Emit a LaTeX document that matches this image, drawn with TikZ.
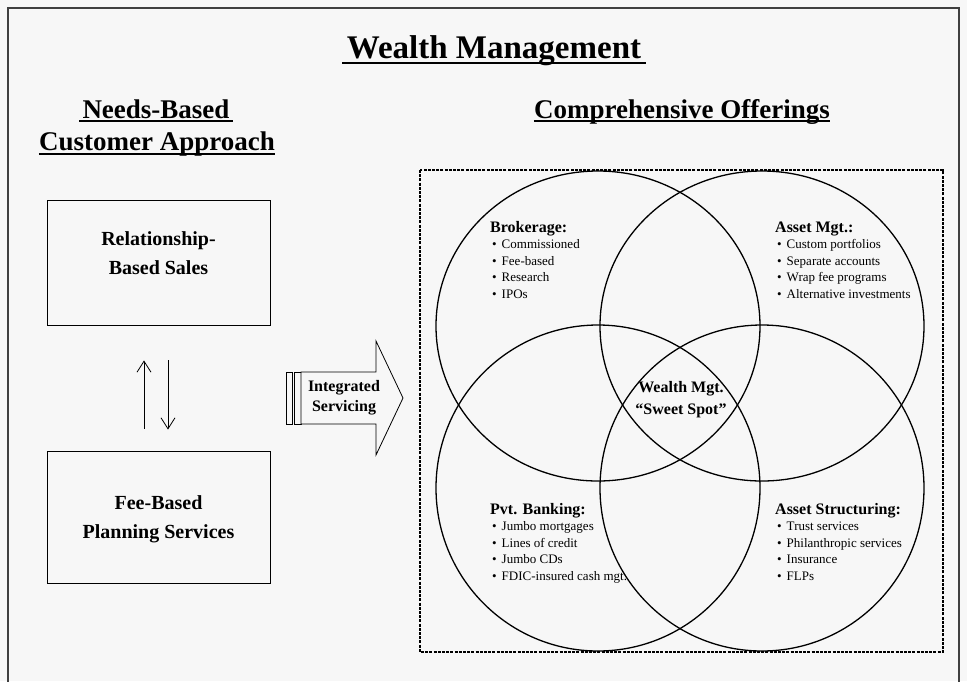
\documentclass[tikz,border=0pt]{standalone}
\usepackage{fontspec}
\setmainfont{Liberation Serif}
\usetikzlibrary{arrows.meta,shapes.geometric}
\definecolor{paper}{HTML}{F7F7F7}
\definecolor{frameline}{HTML}{404040}
\begin{document}
\begin{tikzpicture}[x=1pt,y=-1pt,
  titletext/.style={font=\fontsize{33}{38}\selectfont\bfseries, inner sep=0, anchor=base},
  heading/.style={font=\fontsize{27}{32}\selectfont\bfseries, inner sep=0, anchor=base},
  ul/.style={line width=2pt},
  salesbox/.style={draw, line width=0.9pt, minimum width=223pt, minimum height=125pt, inner sep=0},
  boxtext/.style={font=\fontsize{20}{29}\selectfont\bfseries, align=center, inner sep=0},
  ring/.style={draw, ellipse, line width=1.3pt, inner sep=0, minimum width=324pt},
  grouphead/.style={font=\fontsize{16}{18}\selectfont\bfseries, anchor=base west, inner sep=0},
  item/.style={font=\fontsize{13}{16}\selectfont, anchor=base west, inner sep=0},
  swaparrow/.style={line width=0.8pt, -{Straight Barb[length=11pt,width=14pt,line width=0.8pt]}},
]
% canvas and frame
\fill[paper] (0,0) rectangle (967,681);
\useasboundingbox (0,0) rectangle (967,681);
\begin{scope}
\clip (0,0) rectangle (967,681);
\draw[frameline, line width=2pt] (8,700) -- (8,8) -- (959,8) -- (959,700);
\end{scope}

% titles
\node[titletext] (title) at (494,58) {Wealth Management};
\draw[ul] (342,63) -- (646,63);
\node[heading] (needs) at (156,118) {Needs-Based};
\draw[ul] (needs.base west) ++(-3,3) -- ([xshift=3pt,yshift=-3pt]needs.base east);
\node[heading] (approach) at (157,150) {Customer Approach};
\draw[ul] (approach.base west) ++(0,4) -- ([yshift=-4pt]approach.base east);
\node[heading] (offer) at (682,118) {Comprehensive Offerings};
\draw[ul] (offer.base west) ++(0,3) -- ([yshift=-3pt]offer.base east);

% customer approach boxes
\node[salesbox] (rel) at (158.5,262.5) {};
\node[boxtext] (reltext) at (158.5,253) {Relationship-\\Based Sales};
\node[salesbox, minimum height=132pt] (fee) at (158.5,517) {};
\node[boxtext] (feetext) at (158.5,519) {Fee-Based\\Planning Services};
\coordinate (upfrom) at ([xshift=-14.5pt,yshift=22pt]fee.north);
\coordinate (upto)   at ([xshift=-14.5pt,yshift=-35pt]rel.south);
\coordinate (dnfrom) at ([xshift=9.5pt,yshift=-35pt]rel.south);
\coordinate (dnto)   at ([xshift=9.5pt,yshift=21pt]fee.north);
\draw[swaparrow] (upfrom) -- (upto);
\draw[swaparrow] (dnfrom) -- (dnto);

% integrated servicing block arrow
\draw[line width=0.8pt, fill=paper] (286,372) rectangle (292,424);
\draw[line width=0.8pt, fill=paper] (294,372) rectangle (301,424);
\draw[line width=0.8pt, fill=paper, line join=miter]
  (301,372) -- (376,372) -- (376,341) -- (403,398) -- (376,455) -- (376,424) -- (301,424) -- cycle;
\node[font=\fontsize{16}{20}\selectfont\bfseries, align=center, inner sep=0] (serv) at (344,398) {Integrated\\Servicing};

% offerings frame and the four overlapping rings
\draw[line width=1.6pt, dash pattern=on 3pt off 1.2pt] (420,170) rectangle (943,652);
\node[ring, minimum height=310pt] (brk) at (598,326) {};
\node[ring, minimum height=310pt] (amg) at (762,326) {};
\node[ring, minimum height=326pt] (pvt) at (598,488) {};
\node[ring, minimum height=326pt] (ast) at (762,488) {};

% group labels
\node[grouphead] (brkhead) at (490,232) {Brokerage:};
\foreach \t [count=\i] in {Commissioned, Fee-based, Research, IPOs}
  \node[item] (brk\i) at (492,232+16.5*\i) {\textbullet\hspace{5pt}\t};
\node[grouphead] (amghead) at (775,232) {Asset Mgt.:};
\foreach \t [count=\i] in {Custom portfolios, Separate accounts, Wrap fee programs, Alternative investments}
  \node[item] (amg\i) at (777,232+16.5*\i) {\textbullet\hspace{5pt}\t};
\node[grouphead] (pvthead) at (490,514) {Pvt. Banking:};
\foreach \t [count=\i] in {Jumbo mortgages, Lines of credit, Jumbo CDs, FDIC-insured cash mgt.}
  \node[item] (pvt\i) at (492,514+16.5*\i) {\textbullet\hspace{5pt}\t};
\node[grouphead] (asthead) at (775,514) {Asset Structuring:};
\foreach \t [count=\i] in {Trust services, Philanthropic services, Insurance, FLPs}
  \node[item] (ast\i) at (777,514+16.5*\i) {\textbullet\hspace{5pt}\t};

% centre of the overlap
\node[font=\fontsize{16}{22}\selectfont\bfseries, align=center, inner sep=0] (sweet) at (681,400) {Wealth Mgt.\\``Sweet Spot''};
\end{tikzpicture}
\end{document}
